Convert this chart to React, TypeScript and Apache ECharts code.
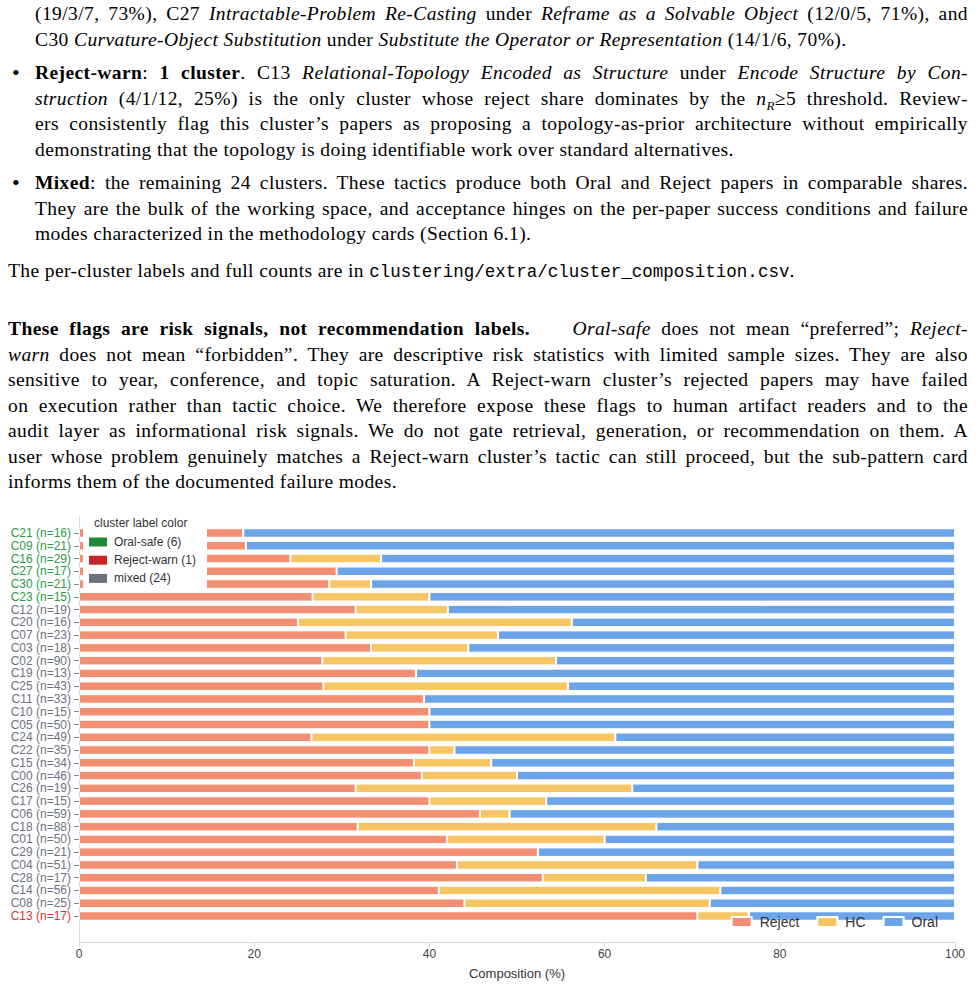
import React, { useEffect, useRef } from "react";
import * as echarts from "echarts";

// ---- data (counts per cluster) ----
const clusters = ["C21","C09","C16","C27","C30","C23","C12","C20","C07","C03","C02","C19","C25","C11","C10","C05","C24","C22","C15","C00","C26","C17","C06","C18","C01","C29","C04","C28","C14","C08","C13"];
const rejectCounts = [3,4,7,5,6,4,6,4,7,6,25,5,12,13,6,20,13,14,13,18,6,6,27,28,21,11,22,9,23,11,12];
const hcCounts =     [0,0,3,0,1,2,2,5,4,2,24,0,12,0,0,0,17,1,3,5,6,2,2,30,9,0,14,2,18,7,1];
const oralCounts =   [13,17,19,12,14,9,11,7,12,10,41,8,19,20,9,30,19,20,18,23,7,7,30,30,20,10,15,6,15,7,4];
const flags = ["safe","safe","safe","safe","safe","safe","mixed","mixed","mixed","mixed","mixed","mixed","mixed","mixed","mixed","mixed","mixed","mixed","mixed","mixed","mixed","mixed","mixed","mixed","mixed","mixed","mixed","mixed","mixed","mixed","warn"];
const seriesNames = ["Reject", "HC", "Oral"];
const xTicks = { min: 0, max: 100, interval: 20 };
const flagLegend = [
  { key: "safe", label: "Oral-safe (6)" },
  { key: "warn", label: "Reject-warn (1)" },
  { key: "mixed", label: "mixed (24)" },
];

const COLORS = { Reject: "#F28E72", HC: "#F6C664", Oral: "#6BA4E8" };
const LABEL_COLORS: Record<string, string> = { safe: "#2E9A48", warn: "#D53838", mixed: "#6B7280" };
const SWATCH_COLORS: Record<string, string> = { safe: "#1F8B3A", warn: "#C8262A", mixed: "#6B727E" };

const SANS = '"Liberation Sans", Arial, Helvetica, sans-serif';
const SERIF = '"Liberation Serif", "Times New Roman", serif';
const MONO = '"Liberation Mono", "DejaVu Sans Mono", monospace';

function Chart() {
  const ref = useRef<HTMLDivElement>(null);
  useEffect(() => {
    if (!ref.current) return;
    const chart = echarts.init(ref.current, null, { renderer: "svg" });
    const totals = clusters.map((_, i) => rejectCounts[i] + hcCounts[i] + oralCounts[i]);
    const labels = clusters.map((c, i) => `${c} (n=${totals[i]})`);
    const pct = (arr: number[]) => arr.map((v, i) => (v / totals[i]) * 100);
    const dataBy: Record<string, number[]> = {
      Reject: pct(rejectCounts),
      HC: pct(hcCounts),
      Oral: pct(oralCounts),
    };
    const graphic: any[] = [
      { type: "line", z: 1, shape: { x1: 79.5, y1: 516, x2: 79.5, y2: 942 }, style: { stroke: "#D6DAE4", lineWidth: 1 } },
      { type: "rect", z: 100, shape: { x: 83, y: 514, width: 124, height: 77 }, style: { fill: "#ffffff" } },
      { type: "text", z: 101, x: 94, y: 523, style: { text: "cluster label color", fontSize: 12, fill: "#333", fontFamily: SANS, textVerticalAlign: "middle" } },
    ];
    flagLegend.forEach((f, i) => {
      const cy = 542 + i * 18.2;
      graphic.push({ type: "rect", z: 101, shape: { x: 89, y: cy - 4.5, width: 18, height: 9 }, style: { fill: SWATCH_COLORS[f.key] } });
      graphic.push({ type: "text", z: 101, x: 114, y: cy, style: { text: f.label, fontSize: 12, fill: "#333", fontFamily: SANS, textVerticalAlign: "middle" } });
    });
    chart.setOption({
      animation: false,
      textStyle: { fontFamily: SANS },
      grid: { left: 79, right: 21, top: 526.6, bottom: 62.6, containLabel: false },
      legend: {
        data: seriesNames,
        right: 33,
        top: 910,
        itemWidth: 20,
        itemHeight: 10,
        itemGap: 17,
        icon: "rect",
        textStyle: { fontSize: 14, color: "#333", fontFamily: SANS, padding: [0, 0, 0, 3] },
      },
      xAxis: {
        type: "value",
        min: xTicks.min,
        max: xTicks.max,
        interval: xTicks.interval,
        offset: 20,
        axisLine: { show: true, lineStyle: { color: "#D6DAE4" } },
        axisTick: { show: true, length: 5, lineStyle: { color: "#D6DAE4" } },
        splitLine: { show: false },
        axisLabel: { fontSize: 12, color: "#444", margin: 6 },
        name: "Composition (%)",
        nameLocation: "middle",
        nameGap: 25,
        nameTextStyle: { fontSize: 13, color: "#333" },
      },
      yAxis: {
        type: "category",
        inverse: true,
        data: labels,
        axisLine: { show: false },
        axisTick: { show: true, alignWithLabel: true, length: 5, lineStyle: { color: "#888" } },
        axisLabel: {
          fontSize: 12,
          margin: 8,
          interval: 0,
          color: (_v: any, i: number) => LABEL_COLORS[flags[i]],
        },
      },
      series: seriesNames.map((name) => ({
        name,
        type: "bar",
        stack: "total",
        barWidth: 9.5,
        data: dataBy[name],
        itemStyle: { color: COLORS[name as keyof typeof COLORS], borderColor: "#ffffff", borderWidth: 1, borderRadius: 1 },
        emphasis: { disabled: true },
      })),
      graphic,
    });
    return () => chart.dispose();
  }, []);
  return <div ref={ref} style={{ position: "absolute", left: 0, top: 0, width: 976, height: 985 }} />;
}

type LineProps = { y: number; left: number; right?: number; justify?: boolean; children: React.ReactNode };
function Line({ y, left, right = 968, justify, children }: LineProps) {
  return (
    <div
      style={{
        position: "absolute",
        top: y - 13,
        left,
        width: right - left,
        lineHeight: "26px",
        textAlign: justify ? "justify" : "left",
        textAlignLast: justify ? "justify" : "left",
        whiteSpace: "nowrap",
      }}
    >
      {children}
    </div>
  );
}

const Bullet = ({ y }: { y: number }) => (
  <div style={{ position: "absolute", top: y - 13, left: 12, lineHeight: "26px", fontSize: 22 }}>•</div>
);

function Text() {
  const it = (s: string) => <i>{s}</i>;
  const L = 25.5;
  return (
    <div style={{ position: "absolute", left: 0, top: 0, width: 976, height: 500, fontFamily: SERIF, fontSize: 19.5, letterSpacing: "0.4px", color: "#000", zIndex: 2, pointerEvents: "none" }}>
      <Line y={14} left={35} justify>
        (19/3/7, 73%), C27 {it("Intractable-Problem Re-Casting")} under {it("Reframe as a Solvable Object")} (12/0/5, 71%), and
      </Line>
      <Line y={40} left={35}>
        C30 {it("Curvature-Object Substitution")} under {it("Substitute the Operator or Representation")} (14/1/6, 70%).
      </Line>
      <Bullet y={73} />
      <Line y={73} left={35} justify>
        <b>Reject-warn</b>: <b>1 cluster</b>. C13 {it("Relational-Topology Encoded as Structure")} under {it("Encode Structure by Con-")}
      </Line>
      <Line y={73 + L} left={35} justify>
        {it("struction")} (4/1/12, 25%) is the only cluster whose reject share dominates by the <i>n</i><sub style={{ fontSize: 13 }}><i>R</i></sub>≥5 threshold. Review-
      </Line>
      <Line y={73 + 2 * L} left={35} justify>
        ers consistently flag this cluster’s papers as proposing a topology-as-prior architecture without empirically
      </Line>
      <Line y={73 + 3 * L} left={35}>
        demonstrating that the topology is doing identifiable work over standard alternatives.
      </Line>
      <Bullet y={183} />
      <Line y={183} left={35} justify>
        <b>Mixed</b>: the remaining 24 clusters. These tactics produce both Oral and Reject papers in comparable shares.
      </Line>
      <Line y={183 + L} left={35} justify>
        They are the bulk of the working space, and acceptance hinges on the per-paper success conditions and failure
      </Line>
      <Line y={183 + 2 * L} left={35}>
        modes characterized in the methodology cards (Section 6.1).
      </Line>
      <Line y={271} left={8}>
        The per-cluster labels and full counts are in <span style={{ fontFamily: MONO, fontSize: 17.5, letterSpacing: 0 }}>clustering/extra/cluster_composition.csv</span>.
      </Line>
      <Line y={329} left={8} justify>
        <b>These flags are risk signals, not recommendation labels.</b>&nbsp;&nbsp;&nbsp; {it("Oral-safe")} does not mean “preferred”; {it("Reject-")}
      </Line>
      <Line y={329 + L} left={8} justify>
        {it("warn")} does not mean “forbidden”. They are descriptive risk statistics with limited sample sizes. They are also
      </Line>
      <Line y={329 + 2 * L} left={8} justify>
        sensitive to year, conference, and topic saturation. A Reject-warn cluster’s rejected papers may have failed
      </Line>
      <Line y={329 + 3 * L} left={8} justify>
        on execution rather than tactic choice. We therefore expose these flags to human artifact readers and to the
      </Line>
      <Line y={329 + 4 * L} left={8} justify>
        audit layer as informational risk signals. We do not gate retrieval, generation, or recommendation on them. A
      </Line>
      <Line y={329 + 5 * L} left={8} justify>
        user whose problem genuinely matches a Reject-warn cluster’s tactic can still proceed, but the sub-pattern card
      </Line>
      <Line y={329 + 6 * L} left={8}>
        informs them of the documented failure modes.
      </Line>
    </div>
  );
}

export default function App() {
  return (
    <div style={{ position: "absolute", left: 0, top: 0, width: 976, height: 985, background: "#fff", overflow: "hidden" }}>
      <Chart />
      <Text />
    </div>
  );
}
